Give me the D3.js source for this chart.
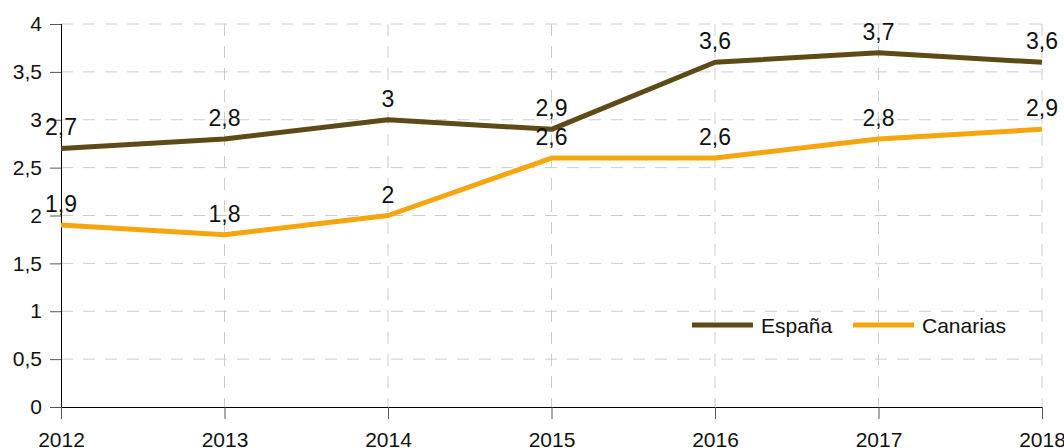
<!DOCTYPE html>
<html>
<head>
<meta charset="utf-8">
<script src="https://cdn.jsdelivr.net/npm/d3@7"></script>
<style>
  html, body { margin: 0; padding: 0; background: #fff; }
  svg { display: block; font-family: "Liberation Sans", Arial, sans-serif; }
</style>
</head>
<body>
<svg id="chart" width="1064" height="448"></svg>
<script>
const years = [2012, 2013, 2014, 2015, 2016, 2017, 2018];
const espana = [2.7, 2.8, 3.0, 2.9, 3.6, 3.7, 3.6];
const canarias = [1.9, 1.8, 2.0, 2.6, 2.6, 2.8, 2.9];
const yTicks = [0, 0.5, 1, 1.5, 2, 2.5, 3, 3.5, 4];
const seriesNames = ["España", "Canarias"];
const seriesColors = ["#5e4a17", "#f6a50f"];

(function () {
const svg = d3.select("#chart");
const mL = 61, mR = 1042, mT = 24, mB = 407;
const x = d3.scalePoint().domain(years).range([mL, mR]);
const y = d3.scaleLinear().domain([0, 4]).range([mB, mT]);
const fmt = v => String(v).replace(".", ",");

// grid
const grid = svg.append("g");
grid.selectAll("line.h").data(yTicks.filter(d => d > 0)).enter().append("line")
  .attr("x1", mL).attr("x2", mR).attr("y1", d => y(d)).attr("y2", d => y(d))
  .attr("stroke", "#cccccc").attr("stroke-width", 1).attr("stroke-dasharray", "12,10");
grid.selectAll("line.v").data(years.slice(1)).enter().append("line")
  .attr("x1", d => x(d)).attr("x2", d => x(d)).attr("y1", mT).attr("y2", mB)
  .attr("stroke", "#cccccc").attr("stroke-width", 1).attr("stroke-dasharray", "12,10");

// y axis
const yAxis = svg.append("g").attr("transform", `translate(${mL},0)`)
  .call(d3.axisLeft(y).tickValues(yTicks).tickFormat(fmt).tickSize(11).tickPadding(8));
yAxis.select(".domain").attr("stroke", "#000").attr("d", `M0.5,${mT}V${mB}`);
yAxis.selectAll(".tick line").attr("stroke", "#555");
yAxis.selectAll("text").attr("font-size", 21).attr("fill", "#111")
  .attr("font-family", "Liberation Sans, Arial, sans-serif");

// x axis
const xAxis = svg.append("g").attr("transform", `translate(0,${mB})`)
  .call(d3.axisBottom(x).tickSize(12).tickPadding(13));
xAxis.select(".domain").attr("stroke", "#000").attr("d", `M${mL},0.5H${mR}`);
xAxis.selectAll(".tick line").attr("stroke", "#555");
xAxis.selectAll("text").attr("font-size", 21).attr("fill", "#111")
  .attr("font-family", "Liberation Sans, Arial, sans-serif");

// lines
const line = d3.line().x((d, i) => x(years[i])).y(d => y(d));
[espana, canarias].forEach((s, k) => {
  svg.append("path").datum(s).attr("d", line).attr("fill", "none")
    .attr("stroke", seriesColors[k]).attr("stroke-width", 5).attr("stroke-linejoin", "round");
});
// labels
[espana, canarias].forEach((s, k) => {
  svg.append("g").selectAll("text").data(s).enter().append("text")
    .attr("x", (d, i) => x(years[i])).attr("y", d => y(d) - 13)
    .attr("text-anchor", "middle").attr("font-size", 23).attr("fill", "#111")
    .text(fmt);
});

// legend
const legend = svg.append("g").attr("transform", "translate(692,325)");
const lx = [0, 161];
seriesNames.forEach((n, k) => {
  const g = legend.append("g").attr("transform", `translate(${lx[k]},0)`);
  g.append("line").attr("x1", 0).attr("x2", 61).attr("y1", 0).attr("y2", 0)
    .attr("stroke", seriesColors[k]).attr("stroke-width", 5);
  g.append("text").attr("x", 69).attr("y", 8).attr("font-size", 21).attr("fill", "#111").text(n);
});
})();
</script>
</body>
</html>
